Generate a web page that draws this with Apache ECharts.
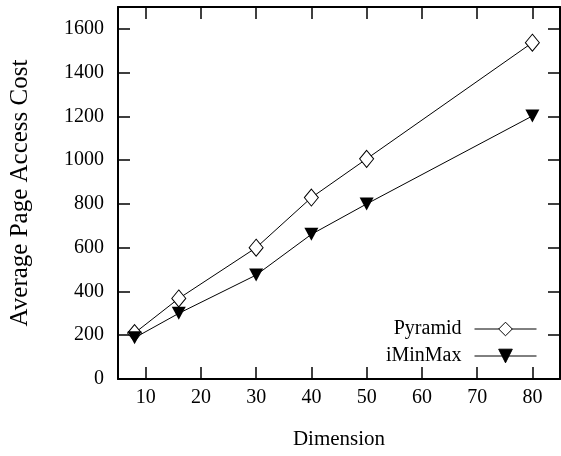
<!DOCTYPE html>
<html>
<head>
<meta charset="utf-8">
<script src="https://cdn.jsdelivr.net/npm/echarts@6/dist/echarts.min.js"></script>
<style>html,body{margin:0;padding:0;background:#fff}#c{width:561px;height:456px}</style>
</head>
<body>
<div id="c"></div>
<script>
var dimensions = [8, 16, 30, 40, 50, 80];
var pyramid = [210, 368, 600, 829, 1006, 1537];
var iminmax = [188, 300, 475, 661, 800, 1202];
var xTicks = [10, 20, 30, 40, 50, 60, 70, 80];
var xMin = 5, xMax = 85, yMin = 0, yMax = 1700, yStep = 200;

var FONT = 'Liberation Serif';
var chart = echarts.init(document.getElementById('c'), null, {renderer: 'canvas'});
function pairs(xs, ys) { return xs.map(function (x, i) { return [x, ys[i]]; }); }

function tick() { return {show: true, inside: true, length: 12, lineStyle: {color: '#000', width: 1.5}}; }
var lineStyle = {show: true, onZero: false, lineStyle: {color: '#000', width: 2}};
function plain(v) { return String(v); }

var xTop = tick(); xTop.customValues = xTicks;
var xBot = tick(); xBot.customValues = xTicks;

chart.setOption({
  animation: false,
  backgroundColor: '#fff',
  grid: {left: 118, right: 1, top: 7, bottom: 77, containLabel: false},
  xAxis: [{
    type: 'value', min: xMin, max: xMax, position: 'bottom',
    name: 'Dimension', nameLocation: 'middle', nameGap: 50,
    nameTextStyle: {fontFamily: FONT, fontSize: 21, color: '#000'},
    axisLine: lineStyle,
    axisTick: xBot,
    axisLabel: {customValues: xTicks, formatter: plain, fontFamily: FONT, fontSize: 20, color: '#000', margin: 9},
    splitLine: {show: false}
  }, {
    type: 'value', min: xMin, max: xMax, position: 'top',
    axisLine: lineStyle,
    axisTick: xTop,
    axisLabel: {show: false},
    splitLine: {show: false}
  }],
  yAxis: [{
    type: 'value', min: yMin, max: yMax, interval: yStep, position: 'left',
    name: 'Average Page Access Cost', nameLocation: 'middle', nameGap: 85,
    nameTextStyle: {fontFamily: FONT, fontSize: 25, color: '#000'},
    axisLine: lineStyle,
    axisTick: tick(),
    axisLabel: {formatter: plain, showMaxLabel: false, fontFamily: FONT, fontSize: 20, color: '#000', margin: 14},
    splitLine: {show: false}
  }, {
    type: 'value', min: yMin, max: yMax, interval: yStep, position: 'right',
    axisLine: lineStyle,
    axisTick: tick(),
    axisLabel: {show: false},
    splitLine: {show: false}
  }],
  legend: {
    orient: 'vertical', right: 19, top: 314, align: 'right',
    itemWidth: 62, itemHeight: 17, itemGap: 7,
    lineStyle: {width: 1, color: '#000'},
    itemStyle: {borderWidth: 1},
    textStyle: {fontFamily: FONT, fontSize: 20, color: '#000', padding: [0, 8, 0, 0]},
    data: ['Pyramid', 'iMinMax']
  },
  series: [{
    name: 'Pyramid', type: 'line', data: pairs(dimensions, pyramid),
    symbol: 'diamond', symbolSize: [14, 17],
    lineStyle: {color: '#000', width: 1},
    itemStyle: {color: '#fff', borderColor: '#000', borderWidth: 1}
  }, {
    name: 'iMinMax', type: 'line', data: pairs(dimensions, iminmax),
    symbol: 'path://M0,0 L10,0 L5,9 Z', symbolSize: [14, 13],
    lineStyle: {color: '#000', width: 1},
    itemStyle: {color: '#000', borderColor: '#000', borderWidth: 0}
  }]
});
</script>
</body>
</html>
